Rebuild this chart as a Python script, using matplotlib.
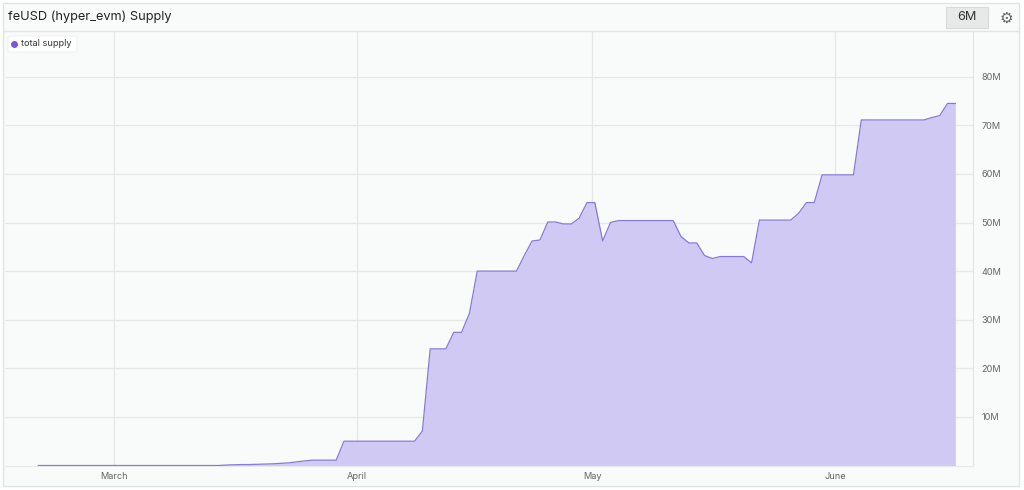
#!/usr/bin/env python3

import numpy as np
import pandas as pd
import matplotlib
matplotlib.use("Agg")
import matplotlib.pyplot as plt
from matplotlib.patches import Rectangle, FancyBboxPatch
from matplotlib.lines import Line2D

plt.rcParams['font.family'] = ['Inter', 'DejaVu Sans']

# daily total supply (millions), Feb 19 -> Jun 16 2025
start = "2025-02-19 08:00"
supply_m = [
    0.0, 0.0, 0.0, 0.0, 0.0, 0.0, 0.0, 0.0, 0.0, 0.0,       # Feb 19-28
    0.0, 0.0, 0.0, 0.0, 0.0, 0.0, 0.0, 0.0, 0.0, 0.0,       # Mar 1-10
    0.0, 0.0, 0.0, 0.0, 0.1, 0.15, 0.2, 0.2, 0.25, 0.3,     # Mar 11-20
    0.35, 0.45, 0.55, 0.75, 0.95, 1.1, 1.1, 1.1, 1.1, 5.0,  # Mar 21-30
    5.0, 5.0, 5.0, 5.0, 5.0, 5.0, 5.0, 5.0, 5.0, 7.1,       # Mar 31-Apr 9
    24.0, 24.0, 24.0, 27.4, 27.4, 31.3, 40.0, 40.0, 40.0, 40.0,  # Apr 10-19
    40.0, 40.0, 43.2, 46.2, 46.4, 50.1, 50.1, 49.7, 49.7, 50.9,  # Apr 20-29
    54.1, 54.1, 46.2, 50.0, 50.4, 50.4, 50.4, 50.4, 50.4, 50.4,  # Apr 30-May 9
    50.4, 50.4, 47.1, 45.8, 45.8, 43.2, 42.6, 43.0, 43.0, 43.0,  # May 10-19
    43.0, 41.7, 50.5, 50.5, 50.5, 50.5, 50.5, 51.9, 54.1, 54.1,  # May 20-29
    59.8, 59.8, 59.8, 59.8, 59.8, 71.1, 71.1, 71.1, 71.1, 71.1,  # May 30-Jun 8
    71.1, 71.1, 71.1, 71.1, 71.6, 72.0, 74.5, 74.5,              # Jun 9-16
]
dates = pd.date_range(start, periods=len(supply_m), freq="D")
supply = np.array(supply_m) * 1e6

y_ticks = [10e6, 20e6, 30e6, 40e6, 50e6, 60e6, 70e6, 80e6]
y_labels = ["10M", "20M", "30M", "40M", "50M", "60M", "70M", "80M"]
month_ticks = pd.to_datetime(["2025-03-01", "2025-04-01", "2025-05-01", "2025-06-01"])
month_labels = ["March", "April", "May", "June"]

BG = "#f8fbfa"
GRID = "#e4e8e8"
FILL = "#d0c9f3"
LINE = "#8878d8"

W, H = 1024, 490


def main():
    fig = plt.figure(figsize=(W / 100, H / 100), dpi=100, facecolor="white")

    # outer panel
    fig.patches.append(Rectangle((3 / W, 1 - 486 / H), 1016 / W, 483 / H,
                                 transform=fig.transFigure, facecolor=BG,
                                 edgecolor="#dfe5e4", lw=1.0, zorder=-10))
    # title bar separator
    fig.lines.append(Line2D([3 / W, 1019 / W], [1 - 31 / H, 1 - 31 / H],
                            transform=fig.transFigure, color="#dfe5e4", lw=1.0))
    fig.text(8 / W, 1 - 17 / H, "feUSD (hyper_evm) Supply", fontsize=9.2,
             color="#222222", va="center", ha="left")

    # 6M button and gear
    fig.patches.append(Rectangle((946 / W, 1 - 28 / H), 42 / W, 21 / H,
                                 transform=fig.transFigure, facecolor="#e7e9e9",
                                 edgecolor="#d6dada", lw=0.8, zorder=1))
    fig.text(967 / W, 1 - 17.5 / H, "6M", fontsize=9.2, color="#333333",
             ha="center", va="center")
    fig.text(1006 / W, 1 - 18 / H, "\u2699", fontsize=11, color="#666666",
             ha="center", va="center", family="DejaVu Sans")

    ax = fig.add_axes([5 / W, 1 - 465.5 / H, 968 / W, 433.5 / H])
    ax.set_facecolor(BG)

    ax.fill_between(dates, supply, 0, color=FILL, lw=0, zorder=2)
    ax.plot(dates, supply, color=LINE, lw=0.9, zorder=3)

    ax.set_xlim(pd.Timestamp("2025-02-15 02:00"), pd.Timestamp("2025-06-18 14:00"))
    ax.set_ylim(0, 89.2e6)

    ax.set_yticks(y_ticks)
    ax.set_yticklabels(y_labels)
    ax.yaxis.tick_right()
    ax.tick_params(axis="y", length=0, pad=6, labelsize=6.6, labelcolor="#666666")

    ax.set_xticks(month_ticks)
    ax.set_xticklabels(month_labels)
    ax.tick_params(axis="x", length=0, pad=5, labelsize=6.6, labelcolor="#666666")

    ax.grid(True, color=GRID, lw=0.9, zorder=1)
    ax.set_axisbelow(True)
    for side in ("top", "left"):
        ax.spines[side].set_visible(False)
    ax.spines["right"].set_color("#e0e5e4")
    ax.spines["bottom"].set_color("#e6eaea")

    # legend chip
    ax.add_patch(FancyBboxPatch((3 / 968, 1 - 20 / 433.5), 69 / 968, 16 / 433.5,
                                boxstyle="round,pad=0,rounding_size=0.004",
                                transform=ax.transAxes, facecolor="white",
                                edgecolor="#eeeeee", lw=0.6, zorder=5))
    ax.plot([9 / 968], [1 - 12 / 433.5], marker="o", ms=4, color="#7b55e0",
            transform=ax.transAxes, zorder=6, clip_on=False)
    ax.text(16 / 968, 1 - 12 / 433.5, "total supply", fontsize=6.6, color="#333333",
            va="center", ha="left", transform=ax.transAxes, zorder=6)

    plt.savefig("out.png", dpi=100, facecolor="white")


if __name__ == '__main__':
    main()
